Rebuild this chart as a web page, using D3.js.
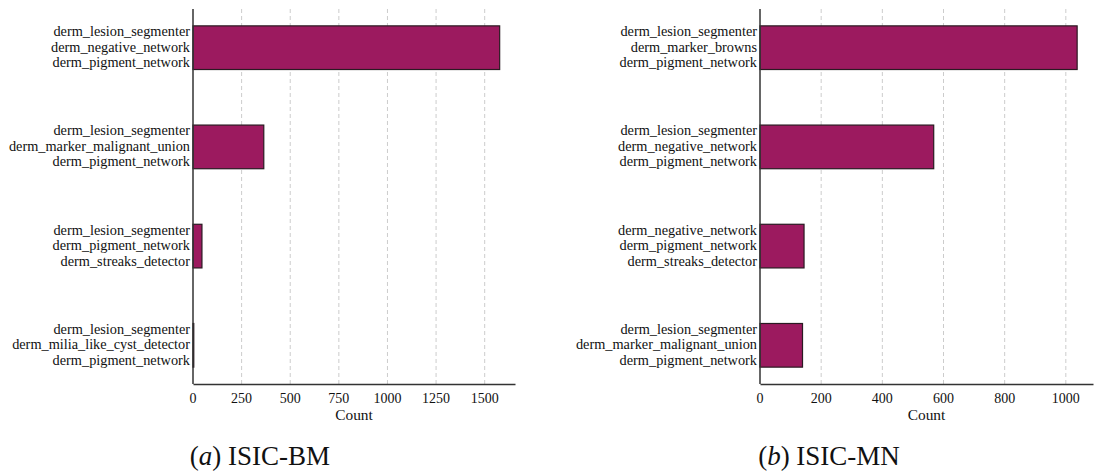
<!DOCTYPE html>
<html>
<head>
<meta charset="utf-8">
<script src="https://cdn.jsdelivr.net/npm/d3@7"></script>
<style>
  html, body { margin: 0; padding: 0; background: #fff; }
  svg { display: block; }
</style>
</head>
<body>
<svg id="chart" width="1103" height="472"></svg>
<script>
// Panel (a): ISIC-BM combinations, top to bottom
const bmCategories = [
  ["derm_lesion_segmenter", "derm_negative_network", "derm_pigment_network"],
  ["derm_lesion_segmenter", "derm_marker_malignant_union", "derm_pigment_network"],
  ["derm_lesion_segmenter", "derm_pigment_network", "derm_streaks_detector"],
  ["derm_lesion_segmenter", "derm_milia_like_cyst_detector", "derm_pigment_network"]
];
const bmCounts = [1577, 364, 46, 4];
const bmTicks = [0, 250, 500, 750, 1000, 1250, 1500];

// Panel (b): ISIC-MN combinations, top to bottom
const mnCategories = [
  ["derm_lesion_segmenter", "derm_marker_browns", "derm_pigment_network"],
  ["derm_lesion_segmenter", "derm_negative_network", "derm_pigment_network"],
  ["derm_negative_network", "derm_pigment_network", "derm_streaks_detector"],
  ["derm_lesion_segmenter", "derm_marker_malignant_union", "derm_pigment_network"]
];
const mnCounts = [1037, 568, 144, 139];
const mnTicks = [0, 200, 400, 600, 800, 1000];

const svg = d3.select("#chart");

// serif text helper; anchoring done by measuring the rendered width
function serifText(parent, str, size, x, y, anchor) {
  const t = parent.append("text")
    .attr("x", x).attr("y", y)
    .attr("font-size", size)
    .attr("fill", "#111")
    .style("font-family", '"Liberation Serif"')
    .text(str);
  const w = t.node().getComputedTextLength();
  const shift = anchor === "end" ? w : anchor === "middle" ? w / 2 : 0;
  t.attr("x", x - shift);
  return t;
}

function drawPanel(cfg) {
  const { left, right, top, bottom, cats, counts, ticks, letter, name } = cfg;
  const g = svg.append("g");

  const xMax = d3.max(counts) * 1.05;
  const x = d3.scaleLinear().domain([0, xMax]).range([left, right]);
  const n = cats.length;
  const pad = 0.39;
  const y = d3.scaleLinear().domain([-pad, n - 1 + pad]).range([top, bottom]);
  const barH = 0.44;

  // dashed vertical grid
  g.append("g").selectAll("line").data(ticks.filter(t => t > 0)).join("line")
    .attr("x1", d => x(d)).attr("x2", d => x(d))
    .attr("y1", top).attr("y2", bottom)
    .attr("stroke", "#cccccc").attr("stroke-width", 1)
    .attr("stroke-dasharray", "4,3");

  // bars
  g.append("g").selectAll("rect").data(counts).join("rect")
    .attr("x", x(0))
    .attr("y", (d, i) => y(i - barH / 2))
    .attr("width", d => x(d) - x(0))
    .attr("height", y(barH) - y(0))
    .attr("fill", "#9c1a5f")
    .attr("stroke", "#2a1a22")
    .attr("stroke-width", 1.2);

  // bottom axis line (ticks hidden), labels drawn from the same scale
  const xAxis = d3.axisBottom(x).tickValues(ticks).tickSize(0).tickFormat(() => "");
  const ax = g.append("g").attr("transform", `translate(0,${bottom})`).call(xAxis);
  ax.selectAll(".tick text").remove();
  ax.select(".domain").attr("stroke", "#333").attr("stroke-width", 1.5);
  const fmt = d3.format("d");
  ticks.forEach(t => serifText(g, fmt(t), 14, x(t), bottom + 19, "middle"));

  // left spine
  g.append("line")
    .attr("x1", left).attr("x2", left).attr("y1", top).attr("y2", bottom)
    .attr("stroke", "#333").attr("stroke-width", 1.5);

  // multi-line category labels
  cats.forEach((lines, i) => {
    lines.forEach((s, j) => serifText(g, s, 14.3, left - 3, y(i) + 4 + (j - 1) * 15.6, "end"));
  });

  // axis title
  serifText(g, "Count", 15.4, (left + right) / 2, bottom + 35.5, "middle");

  // panel caption: "(letter) name" with italic letter
  const cap = g.append("text")
    .attr("x", 0).attr("y", 465)
    .attr("font-size", 27)
    .attr("fill", "#111")
    .style("font-family", '"Liberation Serif"');
  cap.append("tspan").text("(");
  cap.append("tspan").style("font-style", "italic").text(letter);
  cap.append("tspan").text(") " + name);
  const cw = cap.node().getComputedTextLength();
  cap.attr("x", cfg.capX - cw / 2);
}

drawPanel({ left: 193, right: 515, top: 9, bottom: 384,
  cats: bmCategories, counts: bmCounts, ticks: bmTicks,
  letter: "a", name: "ISIC-BM", capX: 260 });

drawPanel({ left: 760, right: 1093, top: 9, bottom: 384,
  cats: mnCategories, counts: mnCounts, ticks: mnTicks,
  letter: "b", name: "ISIC-MN", capX: 829 });
</script>
</body>
</html>
